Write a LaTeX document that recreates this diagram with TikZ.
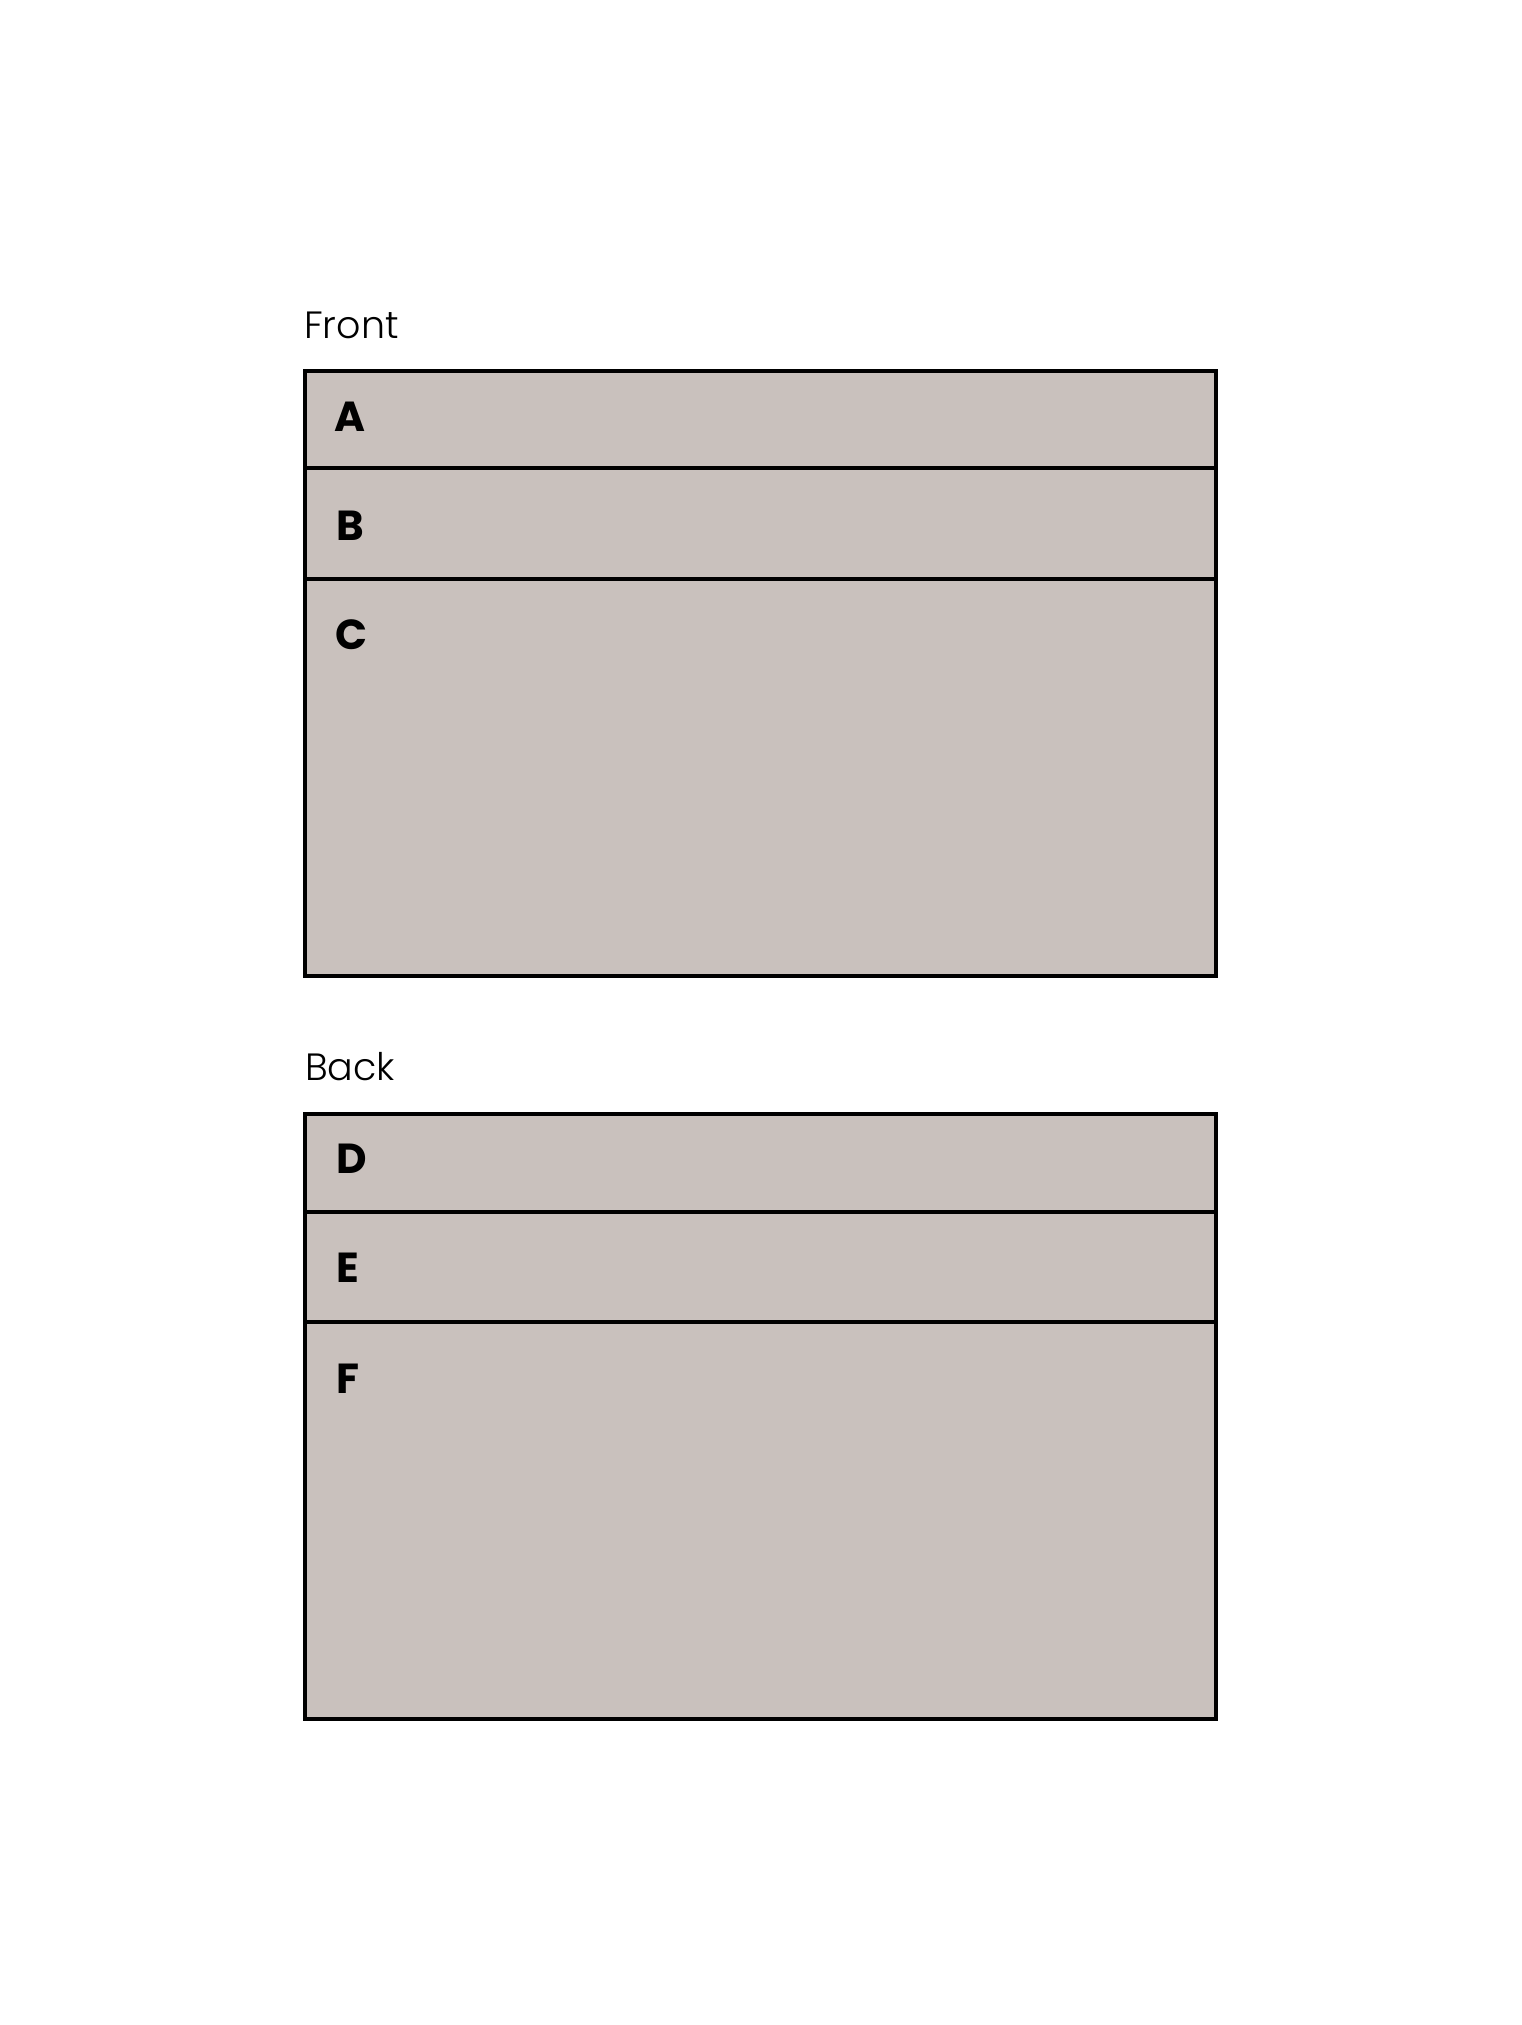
\documentclass[tikz,border=0pt]{standalone}
\usepackage{fontspec}
\setmainfont{Poppins}
\newfontfamily\lightfont{Poppins}[UprightFont={* Light}]
\definecolor{cardfill}{RGB}{201,193,189}
\begin{document}
\begin{tikzpicture}[x=1pt,y=-1pt,
  cardbox/.style={fill=cardfill,draw=black,line width=4pt},
  divider/.style={draw=black,line width=4pt},
  sidelabel/.style={anchor=base west,inner sep=0pt,font=\lightfont\fontsize{38}{38}\selectfont},
  rowletter/.style={anchor=base west,inner sep=0pt,font=\fontsize{42}{42}\selectfont\bfseries}]
\useasboundingbox[fill=white] (0,0) rectangle (1522,2025);
% Front
\node[sidelabel] (front) at (304,338) {Front};
\draw[cardbox] (305,371) rectangle (1216,976);
\draw[divider] (305,468) -- (1216,468);
\draw[divider] (305,579) -- (1216,579);
\node[rowletter] (la) at (334,431) {A};
\node[rowletter] (lb) at (336,540) {B};
\node[rowletter] (lc) at (335,649) {C};
% Back
\node[sidelabel] (back) at (305,1080) {Back};
\draw[cardbox] (305,1114) rectangle (1216,1719);
\draw[divider] (305,1212) -- (1216,1212);
\draw[divider] (305,1322) -- (1216,1322);
\node[rowletter] (ld) at (336,1173) {D};
\node[rowletter] (le) at (336,1282) {E};
\node[rowletter] (lf) at (336,1393) {F};
\end{tikzpicture}
\end{document}
